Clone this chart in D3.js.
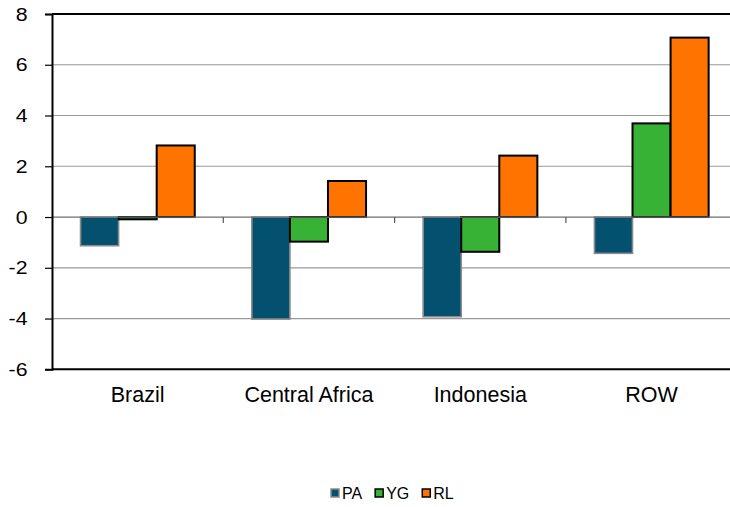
<!DOCTYPE html>
<html>
<head>
<meta charset="utf-8">
<script src="https://cdn.jsdelivr.net/npm/d3@7"></script>
<style>
  html, body { margin: 0; padding: 0; background: #fff; }
  svg { display: block; font-family: "Liberation Sans", Arial, sans-serif; }
</style>
</head>
<body>
<svg id="chart" width="730" height="507"></svg>
<script>
// Regions and the three series plotted for each
const regions = ["Brazil", "Central Africa", "Indonesia", "ROW"];
const seriesNames = ["PA", "YG", "RL"];
const paValues = [-1.13, -4.02, -3.93, -1.43];
const ygValues = [-0.09, -0.97, -1.37, 3.69];
const rlValues = [2.82, 1.42, 2.42, 7.07];
const yTicks = [-6, -4, -2, 0, 2, 4, 6, 8];

const seriesValues = { PA: paValues, YG: ygValues, RL: rlValues };
const fills = { PA: "#03506f", YG: "#37b234", RL: "#ff7300" };
const strokes = { PA: "#8a8a8a", YG: "#000", RL: "#000" };

const svg = d3.select("#chart");
const plotLeft = 52, plotTop = 14, plotBottom = 369.3;
const bandStep = 171.3;
const plotRight = plotLeft + bandStep * regions.length;

const x = d3.scaleBand().domain(regions).range([plotLeft, plotRight]).paddingInner(0).paddingOuter(0);
const xs = d3.scaleBand().domain(seriesNames).range([0, x.bandwidth()]).paddingInner(0).paddingOuter(0.75);
const y = d3.scaleLinear().domain([-6, 8]).range([plotBottom, plotTop]);

// horizontal gridlines
svg.append("g").selectAll("line").data(yTicks.filter(d => d !== -6 && d !== 8 && d !== 0)).join("line")
  .attr("x1", plotLeft).attr("x2", plotRight)
  .attr("y1", d => y(d)).attr("y2", d => y(d))
  .attr("stroke", "#999").attr("stroke-width", 1.2);

// plot area top border
svg.append("line").attr("x1", plotLeft).attr("x2", plotRight).attr("y1", y(8)).attr("y2", y(8))
  .attr("stroke", "#000").attr("stroke-width", 2);

// bars
const rows = regions.flatMap((r, i) => seriesNames.map(s => ({ region: r, series: s, value: seriesValues[s][i] })));
svg.append("g").selectAll("rect").data(rows).join("rect")
  .attr("x", d => x(d.region) + xs(d.series))
  .attr("width", xs.bandwidth())
  .attr("y", d => y(Math.max(0, d.value)))
  .attr("height", d => Math.abs(y(d.value) - y(0)))
  .attr("fill", d => fills[d.series])
  .attr("stroke", d => strokes[d.series])
  .attr("stroke-width", d => d.series === "PA" ? 1.6 : 2);

// zero line and category separator ticks
svg.append("line").attr("x1", plotLeft).attr("x2", plotRight).attr("y1", y(0)).attr("y2", y(0))
  .attr("stroke", "#6e6e6e").attr("stroke-width", 1.2);
svg.append("g").selectAll("line").data(regions.slice(1)).join("line")
  .attr("x1", d => x(d)).attr("x2", d => x(d))
  .attr("y1", y(0)).attr("y2", y(0) + 6)
  .attr("stroke", "#555").attr("stroke-width", 1.2);

// bottom border
svg.append("line").attr("x1", plotLeft).attr("x2", plotRight).attr("y1", y(-6)).attr("y2", y(-6))
  .attr("stroke", "#000").attr("stroke-width", 2);

// value axis (labels use a plain hyphen for negatives)
const yAxis = d3.axisLeft(y).tickValues(yTicks).tickSize(7).tickFormat(d => String(d));
const ya = svg.append("g").attr("transform", `translate(${plotLeft},0)`).call(yAxis);
ya.select(".domain").attr("stroke", "#000").attr("stroke-width", 2);
ya.selectAll(".tick line").attr("stroke", "#000").attr("stroke-width", 1.2);
ya.selectAll(".tick text")
  .attr("x", null)
  .attr("font-size", 19).attr("fill", "#000")
  .attr("font-family", "'Liberation Sans', Arial, sans-serif")
  .attr("transform", "translate(-24.5,0) scale(1.12,1)");

// category labels
svg.append("g").selectAll("text").data(regions).join("text")
  .attr("x", d => x(d) + x.bandwidth() / 2)
  .attr("y", 402)
  .attr("text-anchor", "middle")
  .attr("font-size", 21.5)
  .attr("fill", "#000")
  .text(d => d);

// legend
const legend = svg.append("g");
let lx = 331;
seriesNames.forEach(s => {
  legend.append("rect").attr("x", lx).attr("y", 489).attr("width", 8).attr("height", 8)
    .attr("fill", fills[s]).attr("stroke", s === "PA" ? "#8a8a8a" : "#000").attr("stroke-width", 1.5);
  const t = legend.append("text").attr("x", lx + 11).attr("y", 499)
    .attr("font-size", 16).attr("fill", "#000").text(s);
  lx += 11 + t.node().getComputedTextLength() + 13;
});
</script>
</body>
</html>
